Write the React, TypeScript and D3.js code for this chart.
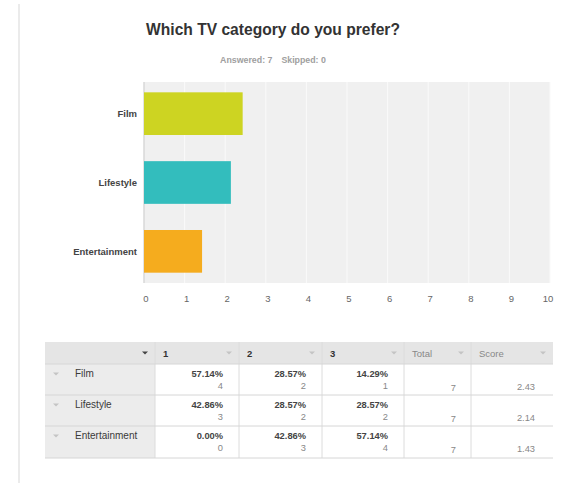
import React from 'react';
import * as d3 from 'd3';

// chart data
const categories = ['Film', 'Lifestyle', 'Entertainment'];
const scores = [2.43, 2.14, 1.43];
const barColors = ['#cdd422', '#33bdbd', '#f5ac1e'];
const xTicks = [0, 1, 2, 3, 4, 5, 6, 7, 8, 9, 10];

// table data
const rankHeaders = ['1', '2', '3'];
const rankPercents = [
  ['57.14%', '28.57%', '14.29%'],
  ['42.86%', '28.57%', '28.57%'],
  ['0.00%', '42.86%', '57.14%'],
];
const rankCounts = [
  [4, 2, 1],
  [3, 2, 2],
  [0, 3, 4],
];
const totals = [7, 7, 7];
const scoreLabels = ['2.43', '2.14', '1.43'];

const FONT = '"Liberation Sans", Arial, Helvetica, sans-serif';

const Arrow = ({ x, y, color }: { x: number; y: number; color: string }) => (
  <path d={`M${x - 3},${y - 1.5}L${x + 3},${y - 1.5}L${x},${y + 1.5}Z`} fill={color} />
);

const App = () => {
  const W = 571;
  const H = 483;
  const plot = { left: 144, right: 550, top: 82, bottom: 283 };

  const x = d3.scaleLinear().domain([0, 10]).range([plot.left, plot.right]);
  const y = d3
    .scaleBand<string>()
    .domain(categories)
    .range([plot.top, plot.bottom])
    .paddingInner(0.38)
    .paddingOuter(0.15);

  // table layout
  const colEdges = [45, 155, 239, 322, 404, 471, 553];
  const headTop = 342;
  const headBottom = 364;
  const rowEdges = [364, 395, 426, 458];

  return (
    <div style={{ position: 'absolute', left: 0, top: 0 }}>
      <svg width={W} height={H} style={{ display: 'block', fontFamily: FONT }}>
        <rect width={W} height={H} fill="#fff" />
        <line x1={19} x2={19} y1={4} y2={H} stroke="#e4e4e4" strokeWidth={1.5} />

        <text x={273} y={35} textAnchor="middle" fontSize={15.6} fontWeight="bold" fill="#333">
          Which TV category do you prefer?
        </text>
        <text x={273} y={63} textAnchor="middle" fontSize={8.8} fontWeight="bold" fill="#a0a0a0">
          <tspan>Answered: 7</tspan>
          <tspan dx={9}>Skipped: 0</tspan>
        </text>

        {/* plot area */}
        <rect
          x={plot.left}
          y={plot.top}
          width={plot.right - plot.left}
          height={plot.bottom - plot.top}
          fill="#f0f0f0"
        />
        {xTicks.slice(1).map(t => (
          <line key={t} x1={x(t)} x2={x(t)} y1={plot.top} y2={plot.bottom} stroke="#fafafa" strokeWidth={1} />
        ))}
        <line x1={plot.left} x2={plot.left} y1={plot.top} y2={plot.bottom} stroke="#d8d8d8" strokeWidth={1.5} />

        {categories.map((c, i) => (
          <g key={c}>
            <rect x={x(0)} y={y(c)} width={x(scores[i]) - x(0)} height={y.bandwidth()} fill={barColors[i]} />
            <text
              x={plot.left - 7}
              y={(y(c) || 0) + y.bandwidth() / 2}
              dy="0.35em"
              textAnchor="end"
              fontSize={9.5}
              fontWeight="bold"
              fill="#444"
            >
              {c}
            </text>
          </g>
        ))}

        {xTicks.map(t => (
          <text key={t} x={x(t) + (t === 10 ? -2 : 2)} y={302} textAnchor="middle" fontSize={9.5} fill="#666">
            {t}
          </text>
        ))}

        {/* table */}
        <rect x={colEdges[0]} y={headTop} width={colEdges[6] - colEdges[0]} height={headBottom - headTop} fill="#e5e5e5" />
        <rect
          x={colEdges[0]}
          y={headBottom}
          width={colEdges[1] - colEdges[0]}
          height={rowEdges[3] - headBottom}
          fill="#ececec"
        />
        {colEdges.slice(1, 6).map(cx => (
          <line key={cx} x1={cx} x2={cx} y1={headTop} y2={rowEdges[3]} stroke="#dcdcdc" />
        ))}
        {rowEdges.map(ry => (
          <line key={ry} x1={colEdges[0]} x2={colEdges[6]} y1={ry} y2={ry} stroke="#d6d6d6" />
        ))}

        <Arrow x={colEdges[1] - 10} y={353} color="#444" />
        {rankHeaders.map((h, j) => (
          <g key={h}>
            <text x={colEdges[j + 1] + 8} y={356.5} fontSize={9.5} fontWeight="bold" fill="#333">
              {h}
            </text>
            <Arrow x={colEdges[j + 2] - 10} y={353} color="#c4c4c4" />
          </g>
        ))}
        {['Total', 'Score'].map((h, j) => (
          <g key={h}>
            <text x={colEdges[j + 4] + 8} y={356.5} fontSize={9.5} fill="#888">
              {h}
            </text>
            <Arrow x={colEdges[j + 5] - 10} y={353} color="#c4c4c4" />
          </g>
        ))}

        {categories.map((c, i) => {
          const top = rowEdges[i];
          return (
            <g key={c}>
              <Arrow x={56} y={top + 10} color="#c4c4c4" />
              <text x={75} y={top + 13} fontSize={10} fill="#3a3a3a">
                {c}
              </text>
              {rankPercents[i].map((p, j) => (
                <g key={j}>
                  <text x={colEdges[j + 2] - 16} y={top + 13} textAnchor="end" fontSize={9.3} fontWeight="bold" fill="#444">
                    {p}
                  </text>
                  <text x={colEdges[j + 2] - 16} y={top + 24.5} textAnchor="end" fontSize={9.3} fill="#888">
                    {rankCounts[i][j]}
                  </text>
                </g>
              ))}
              <text x={colEdges[5] - 15} y={top + 27} textAnchor="end" fontSize={9.3} fill="#888">
                {totals[i]}
              </text>
              <text x={colEdges[6] - 18} y={top + 26} textAnchor="end" fontSize={9.3} fill="#888">
                {scoreLabels[i]}
              </text>
            </g>
          );
        })}
      </svg>
    </div>
  );
};

export default App;
